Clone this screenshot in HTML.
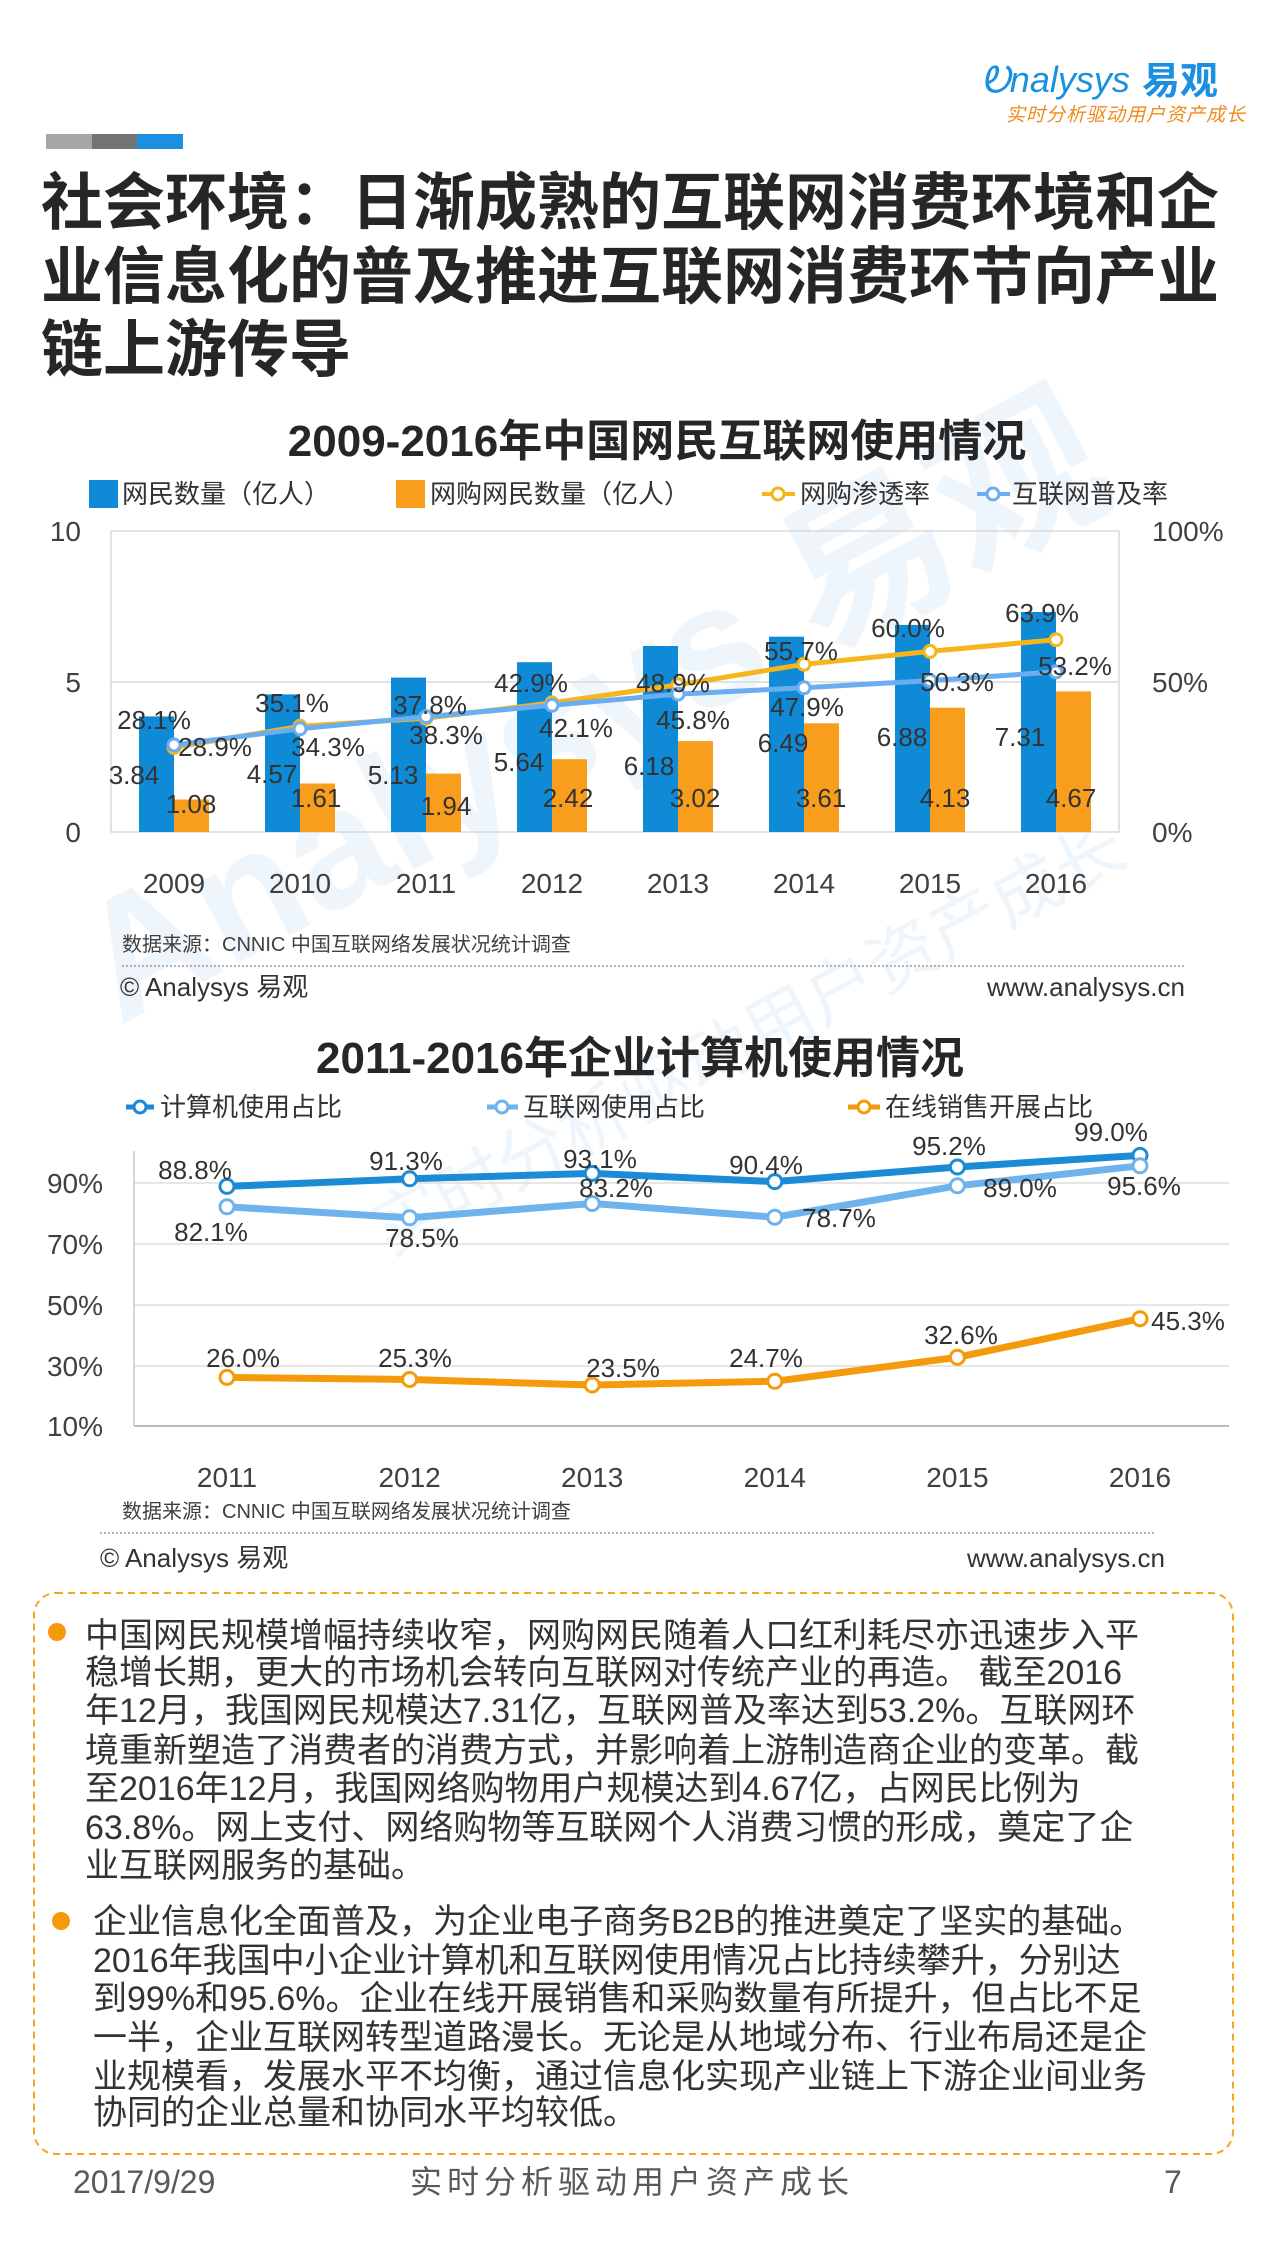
<!DOCTYPE html>
<html><head><meta charset="utf-8">
<style>
html,body{margin:0;padding:0;background:#fff;}
body{width:1265px;height:2249px;overflow:hidden;position:relative;}
svg{position:absolute;left:0;top:0;}
text{font-family:"Liberation Sans","Noto Sans CJK SC",sans-serif;}
</style></head><body>
<svg width="1265" height="2249" viewBox="0 0 1265 2249" xmlns="http://www.w3.org/2000/svg">
<!-- watermark -->
<g opacity="0.08" fill="#3a9ae0">
<text x="620" y="760" font-size="170" font-weight="bold" text-anchor="middle" transform="rotate(-28 620 760)">Analysys 易观</text>
<text x="760" y="1060" font-size="70" text-anchor="middle" transform="rotate(-28 760 1060)">实时分析驱动用户资产成长</text>
</g>

<!-- header logo -->
<text x="981" y="92" font-size="36" fill="#1b8fe0" font-style="italic">Ꭷnalysys</text>
<text x="1142" y="94" font-size="38" font-weight="bold" fill="#1b8fe0">易观</text>
<text x="1006" y="121" font-size="19" fill="#f08a1c" font-style="italic" letter-spacing="1">实时分析驱动用户资产成长</text>
<rect x="46" y="134" width="46" height="15" fill="#a6a6a6"/>
<rect x="92" y="134" width="45" height="15" fill="#737373"/>
<rect x="137" y="134" width="46" height="15" fill="#1b8fe0"/>

<!-- main title -->
<g font-size="62" font-weight="bold" fill="#262626">
<text x="41" y="224">社会环境：日渐成熟的互联网消费环境和企</text>
<text x="41" y="298">业信息化的普及推进互联网消费环节向产业</text>
<text x="41" y="371">链上游传导</text>
</g>

<!-- chart1 -->
<text x="657" y="456" font-size="44" font-weight="bold" fill="#262626" text-anchor="middle">2009-2016年中国网民互联网使用情况</text>
<g font-size="26" fill="#333">
<rect x="89" y="480" width="29" height="28" fill="#0e8ad6"/>
<text x="122" y="503">网民数量（亿人）</text>
<rect x="396" y="480" width="29" height="28" fill="#f99d1c"/>
<text x="430" y="503">网购网民数量（亿人）</text>
<line x1="762" y1="494" x2="795" y2="494" stroke="#f5b51b" stroke-width="4"/>
<circle cx="778" cy="494" r="6" fill="#fff" stroke="#f5b51b" stroke-width="3"/>
<text x="800" y="503">网购渗透率</text>
<line x1="977" y1="494" x2="1010" y2="494" stroke="#6aaef0" stroke-width="4"/>
<circle cx="993" cy="494" r="6" fill="#fff" stroke="#6aaef0" stroke-width="3"/>
<text x="1012" y="503">互联网普及率</text>
</g>
<rect x="111" y="531" width="1008" height="301" fill="none" stroke="#d9d9d9" stroke-width="1.5"/>
<line x1="111" y1="682" x2="1119" y2="682" stroke="#d9d9d9" stroke-width="1.5"/>
<g font-size="28" fill="#404040">
<text x="81" y="541" text-anchor="end">10</text>
<text x="81" y="692" text-anchor="end">5</text>
<text x="81" y="842" text-anchor="end">0</text>
<text x="1152" y="541">100%</text>
<text x="1152" y="692">50%</text>
<text x="1152" y="842">0%</text>
</g>
<g fill="#0e8ad6">
<rect x="139" y="716.4" width="35" height="115.6"/>
<rect x="265" y="694.4" width="35" height="137.6"/>
<rect x="391" y="677.6" width="35" height="154.4"/>
<rect x="517" y="662.2" width="35" height="169.8"/>
<rect x="643" y="646.0" width="35" height="186.0"/>
<rect x="769" y="636.7" width="35" height="195.3"/>
<rect x="895" y="624.9" width="35" height="207.1"/>
<rect x="1021" y="612.0" width="35" height="220.0"/>
</g>
<g fill="#f99d1c">
<rect x="174" y="799.5" width="35" height="32.5"/>
<rect x="300" y="783.5" width="35" height="48.5"/>
<rect x="426" y="773.6" width="35" height="58.4"/>
<rect x="552" y="759.2" width="35" height="72.8"/>
<rect x="678" y="741.1" width="35" height="90.9"/>
<rect x="804" y="723.3" width="35" height="108.7"/>
<rect x="930" y="707.7" width="35" height="124.3"/>
<rect x="1056" y="691.4" width="35" height="140.6"/>
</g>
<polyline points="174,747.4 300,726.3 426,718.2 552,702.9 678,684.8 804,664.3 930,651.4 1056,639.7" fill="none" stroke="#f5b51b" stroke-width="5"/>
<polyline points="174,745 300,728.8 426,716.7 552,705.3 678,694.1 804,687.8 930,680.6 1056,671.9" fill="none" stroke="#6aaef0" stroke-width="5"/>
<g fill="#fff" stroke="#f5b51b" stroke-width="3">
<circle cx="174" cy="747.4" r="6"/><circle cx="300" cy="726.3" r="6"/><circle cx="426" cy="718.2" r="6"/><circle cx="552" cy="702.9" r="6"/><circle cx="678" cy="684.8" r="6"/><circle cx="804" cy="664.3" r="6"/><circle cx="930" cy="651.4" r="6"/><circle cx="1056" cy="639.7" r="6"/>
</g>
<g fill="#fff" stroke="#6aaef0" stroke-width="3">
<circle cx="174" cy="745" r="6"/><circle cx="300" cy="728.8" r="6"/><circle cx="426" cy="716.7" r="6"/><circle cx="552" cy="705.3" r="6"/><circle cx="678" cy="694.1" r="6"/><circle cx="804" cy="687.8" r="6"/><circle cx="930" cy="680.6" r="6"/><circle cx="1056" cy="671.9" r="6"/>
</g>
<g font-size="26" fill="#333" text-anchor="middle" dominant-baseline="central">
<text x="154" y="720">28.1%</text><text x="292" y="703">35.1%</text><text x="430" y="705">37.8%</text><text x="531" y="683">42.9%</text><text x="673" y="683">48.9%</text><text x="801" y="651">55.7%</text><text x="908" y="628">60.0%</text><text x="1042" y="613">63.9%</text>
<text x="215" y="747">28.9%</text><text x="328" y="747">34.3%</text><text x="446" y="735">38.3%</text><text x="576" y="728">42.1%</text><text x="693" y="720">45.8%</text><text x="807" y="707">47.9%</text><text x="957" y="682">50.3%</text><text x="1075" y="666">53.2%</text>
<text x="134" y="775">3.84</text><text x="272" y="774">4.57</text><text x="393" y="775">5.13</text><text x="519" y="762">5.64</text><text x="649" y="766">6.18</text><text x="783" y="743">6.49</text><text x="902" y="737">6.88</text><text x="1020" y="737">7.31</text>
<text x="191" y="804">1.08</text><text x="316" y="798">1.61</text><text x="446" y="806">1.94</text><text x="568" y="798">2.42</text><text x="695" y="798">3.02</text><text x="821" y="798">3.61</text><text x="945" y="798">4.13</text><text x="1071" y="798">4.67</text>
</g>
<g font-size="28" fill="#404040" text-anchor="middle">
<text x="174" y="893">2009</text><text x="300" y="893">2010</text><text x="426" y="893">2011</text><text x="552" y="893">2012</text><text x="678" y="893">2013</text><text x="804" y="893">2014</text><text x="930" y="893">2015</text><text x="1056" y="893">2016</text>
</g>
<text x="122" y="951" font-size="20" fill="#404040">数据来源：CNNIC 中国互联网络发展状况统计调查</text>
<line x1="122" y1="966" x2="1185" y2="966" stroke="#999" stroke-width="1.5" stroke-dasharray="2,2"/>
<text x="120" y="996" font-size="26" fill="#333">© Analysys 易观</text>
<text x="1185" y="996" font-size="26" fill="#333" text-anchor="end">www.analysys.cn</text>

<!-- chart2 -->
<text x="640" y="1073" font-size="44" font-weight="bold" fill="#262626" text-anchor="middle">2011-2016年企业计算机使用情况</text>
<g font-size="26" fill="#333">
<line x1="126" y1="1107" x2="154" y2="1107" stroke="#1b8bd6" stroke-width="5"/>
<circle cx="140" cy="1107" r="6" fill="#fff" stroke="#1b8bd6" stroke-width="3"/>
<text x="160" y="1116">计算机使用占比</text>
<line x1="487" y1="1107" x2="518" y2="1107" stroke="#6eb2ee" stroke-width="5"/>
<circle cx="502" cy="1107" r="6" fill="#fff" stroke="#6eb2ee" stroke-width="3"/>
<text x="523" y="1116">互联网使用占比</text>
<line x1="848" y1="1107" x2="880" y2="1107" stroke="#f59a0b" stroke-width="5"/>
<circle cx="864" cy="1107" r="6" fill="#fff" stroke="#f59a0b" stroke-width="3"/>
<text x="885" y="1116">在线销售开展占比</text>
</g>
<g stroke="#dedede" stroke-width="1.5">
<line x1="134" y1="1183" x2="1229" y2="1183"/><line x1="134" y1="1244" x2="1229" y2="1244"/><line x1="134" y1="1305" x2="1229" y2="1305"/><line x1="134" y1="1366" x2="1229" y2="1366"/>
</g>
<line x1="134" y1="1151" x2="134" y2="1426" stroke="#c8c8c8" stroke-width="1.5"/>
<line x1="134" y1="1426" x2="1229" y2="1426" stroke="#bbb" stroke-width="2"/>
<g font-size="28" fill="#404040" text-anchor="end">
<text x="103" y="1193">90%</text><text x="103" y="1254">70%</text><text x="103" y="1315">50%</text><text x="103" y="1376">30%</text><text x="103" y="1436">10%</text>
</g>
<polyline points="227,1186.4 409.6,1178.8 592.2,1173.4 774.8,1181.6 957.4,1167 1140,1155.4" fill="none" stroke="#1b8bd6" stroke-width="7"/>
<polyline points="227,1206.8 409.6,1217.8 592.2,1203.5 774.8,1217.2 957.4,1185.8 1140,1165.8" fill="none" stroke="#6eb2ee" stroke-width="7"/>
<polyline points="227,1377.4 409.6,1379.5 592.2,1385 774.8,1381.3 957.4,1357.3 1140,1318.7" fill="none" stroke="#f59a0b" stroke-width="7"/>
<g fill="#fff" stroke="#1b8bd6" stroke-width="3">
<circle cx="227" cy="1186.4" r="7"/><circle cx="409.6" cy="1178.8" r="7"/><circle cx="592.2" cy="1173.4" r="7"/><circle cx="774.8" cy="1181.6" r="7"/><circle cx="957.4" cy="1167" r="7"/><circle cx="1140" cy="1155.4" r="7"/>
</g>
<g fill="#fff" stroke="#6eb2ee" stroke-width="3">
<circle cx="227" cy="1206.8" r="7"/><circle cx="409.6" cy="1217.8" r="7"/><circle cx="592.2" cy="1203.5" r="7"/><circle cx="774.8" cy="1217.2" r="7"/><circle cx="957.4" cy="1185.8" r="7"/><circle cx="1140" cy="1165.8" r="7"/>
</g>
<g fill="#fff" stroke="#f59a0b" stroke-width="3">
<circle cx="227" cy="1377.4" r="7"/><circle cx="409.6" cy="1379.5" r="7"/><circle cx="592.2" cy="1385" r="7"/><circle cx="774.8" cy="1381.3" r="7"/><circle cx="957.4" cy="1357.3" r="7"/><circle cx="1140" cy="1318.7" r="7"/>
</g>
<g font-size="26" fill="#333" text-anchor="middle" dominant-baseline="central">
<text x="195" y="1170">88.8%</text><text x="406" y="1161">91.3%</text><text x="600" y="1159">93.1%</text><text x="766" y="1165">90.4%</text><text x="949" y="1146">95.2%</text><text x="1111" y="1132">99.0%</text>
<text x="211" y="1232">82.1%</text><text x="422" y="1238">78.5%</text><text x="616" y="1188">83.2%</text><text x="839" y="1218">78.7%</text><text x="1020" y="1188">89.0%</text><text x="1144" y="1186">95.6%</text>
<text x="243" y="1358">26.0%</text><text x="415" y="1358">25.3%</text><text x="623" y="1368">23.5%</text><text x="766" y="1358">24.7%</text><text x="961" y="1335">32.6%</text><text x="1188" y="1321">45.3%</text>
</g>
<g font-size="28" fill="#404040" text-anchor="middle">
<text x="227" y="1487">2011</text><text x="409.6" y="1487">2012</text><text x="592.2" y="1487">2013</text><text x="774.8" y="1487">2014</text><text x="957.4" y="1487">2015</text><text x="1140" y="1487">2016</text>
</g>
<text x="122" y="1518" font-size="20" fill="#404040">数据来源：CNNIC 中国互联网络发展状况统计调查</text>
<line x1="100" y1="1533" x2="1155" y2="1533" stroke="#999" stroke-width="1.5" stroke-dasharray="2,2"/>
<text x="100" y="1567" font-size="26" fill="#333">© Analysys 易观</text>
<text x="1165" y="1567" font-size="26" fill="#333" text-anchor="end">www.analysys.cn</text>

<!-- text box -->
<rect x="34" y="1593" width="1199" height="561" rx="22" ry="22" fill="none" stroke="#f5a623" stroke-width="2" stroke-dasharray="7,5"/>
<circle cx="57" cy="1632" r="9" fill="#f59a0b"/>
<circle cx="61" cy="1921" r="9" fill="#f59a0b"/>
<g font-size="34" fill="#333">
<text x="85" y="1647">中国网民规模增幅持续收窄，网购网民随着人口红利耗尽亦迅速步入平</text>
<text x="85" y="1684">稳增长期，更大的市场机会转向互联网对传统产业的再造。 截至2016</text>
<text x="85" y="1722">年12月，我国网民规模达7.31亿，互联网普及率达到53.2%。互联网环</text>
<text x="85" y="1762">境重新塑造了消费者的消费方式，并影响着上游制造商企业的变革。截</text>
<text x="85" y="1800">至2016年12月，我国网络购物用户规模达到4.67亿，占网民比例为</text>
<text x="85" y="1839">63.8%。网上支付、网络购物等互联网个人消费习惯的形成，奠定了企</text>
<text x="85" y="1877">业互联网服务的基础。</text>
<text x="93" y="1933">企业信息化全面普及，为企业电子商务B2B的推进奠定了坚实的基础。</text>
<text x="93" y="1972">2016年我国中小企业计算机和互联网使用情况占比持续攀升，分别达</text>
<text x="93" y="2010">到99%和95.6%。企业在线开展销售和采购数量有所提升，但占比不足</text>
<text x="93" y="2049">一半，企业互联网转型道路漫长。无论是从地域分布、行业布局还是企</text>
<text x="93" y="2088">业规模看，发展水平不均衡，通过信息化实现产业链上下游企业间业务</text>
<text x="93" y="2124">协同的企业总量和协同水平均较低。</text>
</g>

<!-- footer -->
<g font-size="32" fill="#595959">
<text x="73" y="2193">2017/9/29</text>
<text x="410" y="2193" letter-spacing="5">实时分析驱动用户资产成长</text>
<text x="1164" y="2193">7</text>
</g>
</svg>
</body></html>
